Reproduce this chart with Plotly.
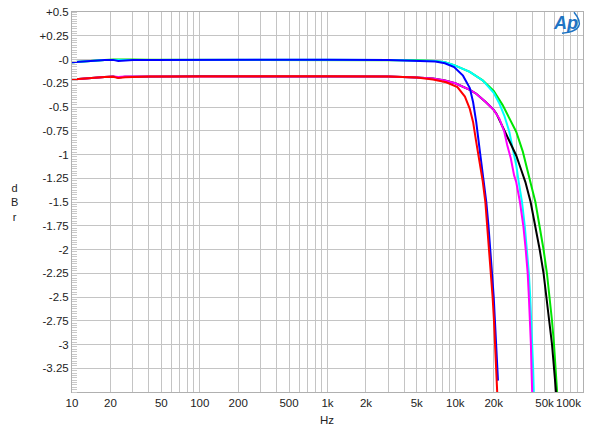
import plotly.graph_objects as go

# ---------------- data ----------------
x_tick_vals = [10, 20, 50, 100, 200, 500, 1000, 2000, 5000, 10000, 20000, 50000, 100000]
x_tick_text = ["10", "20", "50", "100", "200", "500", "1k", "2k", "5k", "10k", "20k", "50k", "100k"]
y_tick_vals = [0.5, 0.25, 0, -0.25, -0.5, -0.75, -1, -1.25, -1.5, -1.75, -2, -2.25, -2.5, -2.75, -3, -3.25]
y_tick_text = ["+0.5", "+0.25", "-0", "-0.25", "-0.5", "-0.75", "-1", "-1.25", "-1.5", "-1.75",
               "-2", "-2.25", "-2.5", "-2.75", "-3", "-3.25"]

low_f = [10, 12, 15, 18, 21, 23, 26, 30, 40, 60, 100, 300, 1000, 3000]

freq_blue = low_f + [5000, 7000, 8300, 9800, 11500, 12500, 13000, 13800, 14600, 15500, 16600,
                     17500, 18200, 18900, 19400, 20000, 20500, 20900, 21300, 21600]
db_blue = [-0.03, -0.02, -0.012, -0.006, -0.004, -0.015, -0.008, -0.006, -0.004, -0.003, -0.003,
           -0.003, -0.003, -0.004,
           -0.01, -0.02, -0.04, -0.08, -0.17, -0.26, -0.30, -0.45, -0.66, -0.94, -1.26,
           -1.5, -1.75, -2.0, -2.25, -2.5, -2.75, -3.0, -3.25, -3.38]

freq_green = low_f + [5000, 7000, 8300, 9800, 13000, 16400, 20000, 23500, 26500, 30000, 33800,
                      36700, 38900, 42400, 45800, 49100, 52200, 54800, 57200, 59300, 61100, 62700]
db_green = [-0.03, -0.02, -0.01, -0.004, 0.0, 0.002, -0.002, 0.0, -0.003, -0.003, -0.003,
            -0.003, -0.003, -0.004,
            -0.008, -0.015, -0.03, -0.06, -0.13, -0.22, -0.33, -0.48, -0.62, -0.76, -0.97,
            -1.15, -1.3, -1.5, -1.75, -2.0, -2.25, -2.5, -2.75, -3.0, -3.25, -3.5]

freq_cyan = low_f + [5000, 7000, 8300, 9800, 13000, 16400, 20000, 22100, 24200, 26500, 28100,
                     30000, 31400, 33300, 35000, 36500, 37700, 38600, 39500, 40000, 40700, 41200]
db_cyan = [-0.03, -0.02, -0.012, -0.006, -0.004, -0.006, -0.006, -0.005, -0.004, -0.003, -0.003,
           -0.003, -0.003, -0.004,
           -0.008, -0.015, -0.03, -0.06, -0.13, -0.22, -0.35, -0.46, -0.59, -0.76, -0.93,
           -1.11, -1.29, -1.5, -1.75, -2.0, -2.25, -2.5, -2.75, -3.0, -3.25, -3.5]

freq_red = low_f + [5000, 6700, 8500, 10400, 11900, 13000, 13800, 14600, 15500, 16400, 17200,
                    17800, 18500, 19100, 19600, 20100, 20500, 20900, 21300]
db_red = [-0.21, -0.2, -0.192, -0.185, -0.182, -0.195, -0.186, -0.183, -0.18, -0.178, -0.177,
          -0.176, -0.176, -0.18,
          -0.19, -0.21, -0.24, -0.29, -0.39, -0.52, -0.66, -0.87, -1.08, -1.28, -1.5,
          -1.75, -2.0, -2.25, -2.5, -2.75, -3.0, -3.25, -3.5]

freq_magenta = low_f + [5000, 6700, 8300, 10000, 13000, 14600, 17400, 20000, 22100, 24200, 25500,
                        27200, 28900, 30000, 32100, 34100, 35600, 36900, 37700, 38600, 39100,
                        39500, 40000]
db_magenta = [-0.21, -0.2, -0.19, -0.184, -0.18, -0.185, -0.18, -0.18, -0.179, -0.178, -0.177,
              -0.176, -0.176, -0.18,
              -0.19, -0.2, -0.22, -0.25, -0.32, -0.36, -0.45, -0.53, -0.62, -0.76, -0.9,
              -1.04, -1.22, -1.29, -1.5, -1.75, -2.0, -2.25, -2.5, -2.75, -3.0, -3.25, -3.5]

freq_black = low_f + [5000, 6700, 8300, 10000, 13000, 14600, 17400, 20000, 21000, 23500, 26500,
                      30000, 32600, 35400, 38900, 42400, 45800, 49100, 51900, 54800, 57200,
                      59300, 61500]
db_black = [-0.21, -0.2, -0.19, -0.184, -0.18, -0.19, -0.182, -0.18, -0.179, -0.178, -0.177,
            -0.176, -0.176, -0.18,
            -0.19, -0.2, -0.22, -0.25, -0.32, -0.36, -0.45, -0.53, -0.57, -0.71, -0.87,
            -1.01, -1.15, -1.29, -1.5, -1.75, -2.0, -2.25, -2.5, -2.75, -3.0, -3.25, -3.5]

series = [
    (freq_green, db_green, "#00e600"),
    (freq_cyan, db_cyan, "#00ffff"),
    (freq_black, db_black, "#000000"),
    (freq_magenta, db_magenta, "#ff00ff"),
    (freq_blue, db_blue, "#0000ff"),
    (freq_red, db_red, "#ff0000"),
]

# minor grid positions (1..9 per decade, excluding labelled ones)
minor_x = []
for dec in [10, 100, 1000, 10000]:
    for m in range(2, 10):
        v = dec * m
        if v not in x_tick_vals:
            minor_x.append(v)

# last tick label is drawn right-aligned at the axis end (as in the reference)
axis_tick_text = x_tick_text[:-1] + [""]

# ---------------- figure ----------------
fig = go.Figure()
for fx, fy, col in series:
    fig.add_trace(go.Scatter(x=fx, y=fy, mode="lines",
                             line=dict(color=col, width=2),
                             hoverinfo="skip", showlegend=False))

grid_col = "#c4c4c4"
font_fam = "Liberation Sans, Arial, sans-serif"
fs = 11.5

fig.update_layout(
    width=600, height=440,
    margin=dict(l=72, r=17, t=12, b=48),
    paper_bgcolor="white", plot_bgcolor="white",
    font=dict(family=font_fam, size=fs, color="#222222"),
    showlegend=False,
    xaxis=dict(
        type="log", range=[1, 5], automargin=False,
        tickmode="array", tickvals=x_tick_vals, ticktext=axis_tick_text,
        showgrid=True, gridcolor=grid_col, gridwidth=1,
        ticks="", showline=True, linecolor="#b0b0b0", linewidth=1, mirror=True,
        zeroline=False,
        tickfont=dict(size=fs, color="#222222"),
        minor=dict(tickmode="array", tickvals=minor_x, showgrid=True,
                   gridcolor=grid_col, gridwidth=1, ticks=""),
    ),
    yaxis=dict(
        range=[-3.5, 0.5], automargin=False,
        tickmode="array", tickvals=y_tick_vals, ticktext=y_tick_text,
        showgrid=True, gridcolor=grid_col, gridwidth=1,
        ticks="", showline=True, linecolor="#b0b0b0", linewidth=1, mirror=True,
        zeroline=False,
        tickfont=dict(size=fs, color="#222222"),
        minor=dict(tickmode="linear", tick0=0, dtick=0.025, ticks="inside",
                   ticklen=5, tickcolor="#c8c8c8", tickwidth=1, showgrid=False),
    ),
)

def px(x):
    return (x - 72) / 511
def py(y):
    return (392 - y) / 380.3

fig.add_annotation(x=1.0, y=py(403), xref="paper", yref="paper", text=x_tick_text[-1],
                   showarrow=False, xanchor="right", yanchor="middle",
                   font=dict(size=fs, color="#222222", family=font_fam))
fig.add_annotation(x=-0.112, y=0.5, xref="paper", yref="paper", text="d<br>B<br>r",
                   showarrow=False, xanchor="center", yanchor="middle",
                   font=dict(size=11, color="#222222", family=font_fam))
fig.add_annotation(x=0.499, y=-0.074, xref="paper", yref="paper", text="Hz",
                   showarrow=False, xanchor="center", yanchor="middle",
                   font=dict(size=fs, color="#222222", family=font_fam))

# Ap logo
fig.add_annotation(x=px(565), y=py(23), xref="paper", yref="paper",
                   text="<b><i>Ap</i></b>", showarrow=False, xanchor="center", yanchor="middle",
                   font=dict(size=18, color="#1f74c4", family=font_fam))
fig.add_shape(type="path", xref="paper", yref="paper",
              path=f"M {px(562)} {py(33)} Q {px(589)} {py(30)} {px(574)} {py(12)}",
              line=dict(color="#1f74c4", width=1.5))

fig.write_html("out.html")
